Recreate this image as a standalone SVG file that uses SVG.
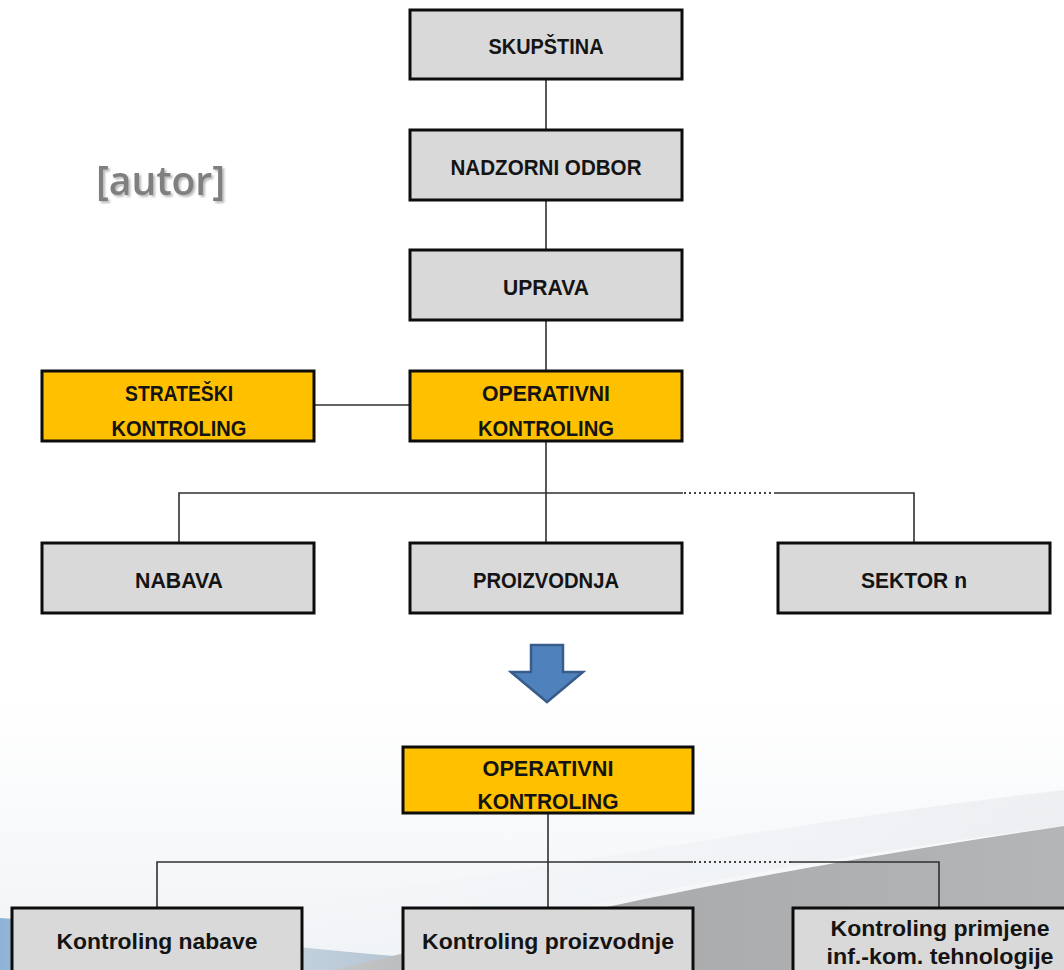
<svg xmlns="http://www.w3.org/2000/svg" width="1064" height="970" viewBox="0 0 1064 970">
<style>
.box{stroke:#0d0d0d;stroke-width:3}
.g{fill:#d9d9d9}
.o{fill:#ffc000}
.t{font-family:"Liberation Sans",Arial,sans-serif;font-weight:bold;font-size:22px;fill:#141414;text-anchor:middle}
.t2{font-family:"Liberation Sans",Arial,sans-serif;font-weight:bold;font-size:22px;fill:#141414;text-anchor:middle}
.c{stroke:#303030;stroke-width:1.6;fill:none}
.d{stroke:#404040;stroke-width:2;stroke-dasharray:2 3;fill:none}
</style>
<defs>
<linearGradient id="bg" x1="0" y1="0" x2="0" y2="1">
<stop offset="0" stop-color="#ffffff"/>
<stop offset="0.72" stop-color="#ffffff"/>
<stop offset="1" stop-color="#f0f3f6"/>
</linearGradient>
<linearGradient id="gw" x1="0" y1="0" x2="1" y2="0">
<stop offset="0" stop-color="#c4c6c8"/>
<stop offset="0.3" stop-color="#a8a9aa"/>
<stop offset="1" stop-color="#b4b5b6"/>
</linearGradient>
<linearGradient id="bl" x1="0" y1="0" x2="1" y2="0">
<stop offset="0" stop-color="#8fb3d6"/>
<stop offset="0.5" stop-color="#cddcea"/>
<stop offset="1" stop-color="#b4c2cf"/>
</linearGradient>
<linearGradient id="hl" x1="0" y1="0" x2="1" y2="0">
<stop offset="0" stop-color="#eef2f6" stop-opacity="0"/>
<stop offset="0.6" stop-color="#eef1f4"/>
<stop offset="1" stop-color="#e8ebee"/>
</linearGradient>
<filter id="sh" x="-10%" y="-10%" width="130%" height="140%">
<feDropShadow dx="2" dy="2" stdDeviation="1.2" flood-color="#9a9a9a" flood-opacity="0.7"/>
</filter>
</defs>
<rect width="1064" height="970" fill="url(#bg)"/>
<path d="M300 900 C550 870 800 820 1064 790 L1064 826 C800 860 560 905 330 970 L300 970 Z" fill="url(#hl)" opacity="0.7"/>
<path d="M0 918 C120 925 250 945 420 958 L420 970 L0 970 Z" fill="url(#bl)"/>
<path d="M335 970 C500 930 700 880 1064 826 L1064 970 Z" fill="url(#gw)"/>
<text x="96" y="195" font-family="'Open Sans','Noto Sans',sans-serif" font-weight="600" font-size="40" fill="#7f7f7f" filter="url(#sh)" textLength="129" lengthAdjust="spacingAndGlyphs">[autor]</text>
<g id="connectors">
<line class="c" x1="546" y1="79" x2="546" y2="130"/>
<line class="c" x1="546" y1="200" x2="546" y2="250"/>
<line class="c" x1="546" y1="320" x2="546" y2="371"/>
<line class="c" x1="314" y1="405" x2="410" y2="405"/>
<line class="c" x1="546" y1="441" x2="546" y2="543"/>
<polyline class="c" points="179,543 179,493 683,493"/>
<line class="d" x1="684" y1="493" x2="774" y2="493"/>
<polyline class="c" points="774,493 914,493 914,543"/>
<line class="c" x1="548" y1="813" x2="548" y2="908"/>
<polyline class="c" points="157,908 157,862 693,862"/>
<line class="d" x1="694" y1="862" x2="791" y2="862"/>
<polyline class="c" points="791,862 939,862 939,908"/>
</g>
<g id="n-skupstina"><rect class="box g" x="410" y="10" width="272" height="69"/><text class="t" x="546" y="54" textLength="115" lengthAdjust="spacingAndGlyphs">SKUPŠTINA</text></g>
<g id="n-nadzorni"><rect class="box g" x="410" y="130" width="272" height="70"/><text class="t" x="546" y="175" textLength="191" lengthAdjust="spacingAndGlyphs">NADZORNI ODBOR</text></g>
<g id="n-uprava"><rect class="box g" x="410" y="250" width="272" height="70"/><text class="t" x="546" y="295" textLength="86" lengthAdjust="spacingAndGlyphs">UPRAVA</text></g>
<g id="n-strateski"><rect class="box o" x="42" y="371" width="272" height="70"/><text class="t" x="179" y="401" textLength="108" lengthAdjust="spacingAndGlyphs">STRATEŠKI</text><text class="t" x="179" y="436" textLength="135" lengthAdjust="spacingAndGlyphs">KONTROLING</text></g>
<g id="n-operativni"><rect class="box o" x="410" y="371" width="272" height="70"/><text class="t" x="546" y="401" textLength="128" lengthAdjust="spacingAndGlyphs">OPERATIVNI</text><text class="t" x="546" y="436" textLength="136" lengthAdjust="spacingAndGlyphs">KONTROLING</text></g>
<g id="n-nabava"><rect class="box g" x="42" y="543" width="272" height="70"/><text class="t" x="179" y="588" textLength="88" lengthAdjust="spacingAndGlyphs">NABAVA</text></g>
<g id="n-proizvodnja"><rect class="box g" x="410" y="543" width="272" height="70"/><text class="t" x="546" y="588" textLength="146" lengthAdjust="spacingAndGlyphs">PROIZVODNJA</text></g>
<g id="n-sektor"><rect class="box g" x="778" y="543" width="272" height="70"/><text class="t" x="914" y="588" textLength="106" lengthAdjust="spacingAndGlyphs">SEKTOR n</text></g>
<g id="arrow"><polygon points="531,645 563,645 563,672 583,672 547,702 511,672 531,672" fill="#4f81bd" stroke="#385d8a" stroke-width="2.5" stroke-linejoin="miter"/></g>
<g id="n-operativni2"><rect class="box o" x="403" y="747" width="290" height="66"/><text class="t" x="548" y="776" textLength="131" lengthAdjust="spacingAndGlyphs">OPERATIVNI</text><text class="t" x="548" y="809" textLength="141" lengthAdjust="spacingAndGlyphs">KONTROLING</text></g>
<g id="n-k-nabave"><rect class="box g" x="12" y="908" width="290" height="70"/><text class="t2" x="157" y="949" textLength="201" lengthAdjust="spacingAndGlyphs">Kontroling nabave</text></g>
<g id="n-k-proizvodnje"><rect class="box g" x="403" y="908" width="290" height="70"/><text class="t2" x="548" y="949" textLength="252" lengthAdjust="spacingAndGlyphs">Kontroling proizvodnje</text></g>
<g id="n-k-ikt"><rect class="box g" x="793" y="908" width="290" height="70"/><text class="t2" x="940" y="936" textLength="219" lengthAdjust="spacingAndGlyphs">Kontroling primjene</text><text class="t2" x="940" y="964" textLength="227" lengthAdjust="spacingAndGlyphs">inf.-kom. tehnologije</text></g>
</svg>
